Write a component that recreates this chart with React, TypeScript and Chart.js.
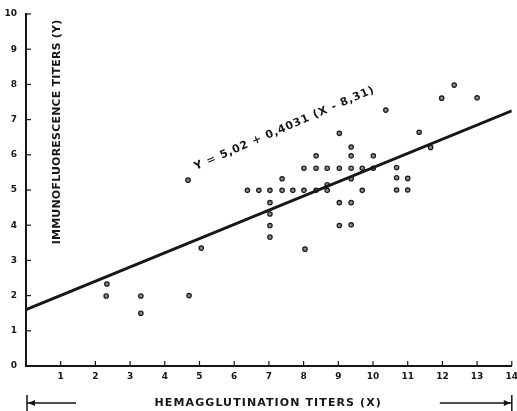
import React, { useEffect, useRef } from "react";
import { Chart, registerables } from "chart.js";

Chart.register(...registerables);

// ---- data ----
const xTickValues = [0, 1, 2, 3, 4, 5, 6, 7, 8, 9, 10, 11, 12, 13, 14];
const yTickValues = [0, 1, 2, 3, 4, 5, 6, 7, 8, 9, 10];

const pointX = [
  2.33, 2.31, 3.31, 3.31, 4.67, 4.7, 5.05,
  6.38, 6.71, 7.03, 7.38, 7.69, 8.01, 8.36, 8.68, 9.69, 10.68, 11.0,
  8.68,
  7.38, 9.37, 10.68, 11.0,
  8.01, 8.36, 8.68, 9.03, 9.37, 9.69, 10.01, 10.68,
  8.36, 9.37, 10.01,
  9.37, 11.66,
  9.03, 11.33,
  10.37,
  11.98, 13.0,
  12.34,
  7.03, 9.03, 9.37,
  7.03,
  7.03, 9.03, 9.37,
  7.03,
  8.04,
];
const pointY = [
  2.33, 1.99, 1.99, 1.5, 5.28, 2.0, 3.35,
  4.99, 4.99, 4.99, 4.99, 4.99, 4.99, 4.99, 4.99, 4.99, 5.0, 5.0,
  5.15,
  5.32, 5.32, 5.35, 5.33,
  5.62, 5.62, 5.62, 5.62, 5.62, 5.62, 5.62, 5.64,
  5.97, 5.97, 5.97,
  6.22, 6.21,
  6.61, 6.64,
  7.27,
  7.61, 7.62,
  7.98,
  4.64, 4.64, 4.64,
  4.32,
  3.99, 3.99, 4.01,
  3.66,
  3.32,
];

const fitLineX = [0, 14];
const fitLineY = [1.6, 7.25];

const equationText = "Y = 5,02 + 0,4031 (X - 8,31)";
const xTitleText = "HEMAGGLUTINATION TITERS (X)";
const yTitleText = "IMMUNOFLUORESCENCE TITERS (Y)";

const INK = "#161616";
const FONT = "'DejaVu Sans', sans-serif";

const decorPlugin = {
  id: "decor",
  afterDraw(chart: any) {
    const ctx = chart.ctx as CanvasRenderingContext2D;
    const xs = chart.scales.x;
    const ys = chart.scales.y;
    const left = chart.chartArea.left;
    const bottom = chart.chartArea.bottom;
    ctx.save();
    ctx.strokeStyle = INK;
    ctx.fillStyle = INK;
    // inward tick marks
    ctx.lineWidth = 1.2;
    xTickValues.forEach((v) => {
      if (v === 0) return;
      const px = xs.getPixelForValue(v);
      ctx.beginPath();
      ctx.moveTo(px, bottom);
      ctx.lineTo(px, bottom - 5);
      ctx.stroke();
    });
    yTickValues.forEach((v) => {
      if (v === 0) return;
      const py = ys.getPixelForValue(v);
      ctx.beginPath();
      ctx.moveTo(left, py);
      ctx.lineTo(left + 5, py);
      ctx.stroke();
    });

    // y title, vertical, inside plot
    ctx.save();
    ctx.translate(left + 31, ys.getPixelForValue(6.65));
    ctx.rotate(-Math.PI / 2);
    ctx.font = `bold 11px ${FONT}`;
    (ctx as any).letterSpacing = "0.2px";
    ctx.textAlign = "center";
    ctx.textBaseline = "middle";
    ctx.fillText(yTitleText, 0, 0);
    ctx.restore();

    // equation along the line
    ctx.save();
    ctx.translate(xs.getPixelForValue(7.45), ys.getPixelForValue(6.75));
    ctx.rotate(-23.5 * Math.PI / 180);
    ctx.font = `bold 11px ${FONT}`;
    (ctx as any).letterSpacing = "0.8px";
    ctx.textAlign = "center";
    ctx.textBaseline = "middle";
    ctx.fillText(equationText, 0, 0);
    ctx.restore();

    // x title
    const ty = bottom + 37;
    ctx.save();
    ctx.font = `bold 11px ${FONT}`;
    (ctx as any).letterSpacing = "1.1px";
    ctx.textAlign = "center";
    ctx.textBaseline = "middle";
    ctx.fillText(xTitleText, xs.getPixelForValue(6.98), ty);
    ctx.restore();

    // arrows
    const x0 = xs.getPixelForValue(0);
    const x14 = xs.getPixelForValue(14);
    ctx.lineWidth = 1.5;
    ctx.beginPath();
    ctx.moveTo(x0 + 1, ty - 8);
    ctx.lineTo(x0 + 1, ty + 8);
    ctx.moveTo(x0 + 1, ty);
    ctx.lineTo(x0 + 50, ty);
    ctx.moveTo(x14, ty - 8);
    ctx.lineTo(x14, ty + 8);
    ctx.moveTo(x14, ty);
    ctx.lineTo(x14 - 72, ty);
    ctx.stroke();
    ctx.beginPath();
    ctx.moveTo(x0 + 2, ty);
    ctx.lineTo(x0 + 9, ty - 3);
    ctx.lineTo(x0 + 9, ty + 3);
    ctx.closePath();
    ctx.fill();
    ctx.beginPath();
    ctx.moveTo(x14 - 1, ty);
    ctx.lineTo(x14 - 8, ty - 3);
    ctx.lineTo(x14 - 8, ty + 3);
    ctx.closePath();
    ctx.fill();
    ctx.restore();
  },
};

export default function App() {
  const canvasRef = useRef<HTMLCanvasElement | null>(null);

  useEffect(() => {
    if (!canvasRef.current) return;
    const scatterData = pointX.map((x, i) => ({ x, y: pointY[i] }));
    const lineData = fitLineX.map((x, i) => ({ x, y: fitLineY[i] }));
    const chart = new Chart(canvasRef.current, {
      type: "scatter",
      data: {
        datasets: [
          {
            type: "line",
            data: lineData,
            borderColor: INK,
            borderWidth: 3,
            pointRadius: 0,
            fill: false,
            tension: 0,
          } as any,
          {
            type: "scatter",
            data: scatterData,
            pointRadius: 2.2,
            pointBorderWidth: 1.2,
            borderColor: INK,
            backgroundColor: "#8a8a8a",
            pointBorderColor: INK,
            pointBackgroundColor: "#8a8a8a",
          } as any,
        ],
      },
      options: {
        animation: false,
        responsive: false,
        maintainAspectRatio: false,
        layout: { padding: { left: 0, right: 5, top: 14, bottom: 0 } },
        plugins: {
          legend: { display: false },
          tooltip: { enabled: false },
          title: { display: false },
        },
        scales: {
          x: {
            type: "linear",
            min: 0,
            max: 14,
            afterFit: (s: any) => {
              s.height = 45;
              s.paddingLeft = 0;
              s.paddingRight = 0;
            },
            afterBuildTicks: (s: any) => {
              s.ticks = xTickValues.map((v) => ({ value: v }));
            },
            grid: { display: false, drawTicks: false },
            border: { display: true, color: INK, width: 2 },
            ticks: {
              padding: 5,
              color: INK,
              font: { family: FONT, size: 9, weight: "bold" },
              maxRotation: 0,
              autoSkip: false,
              callback: (v: any) => (v === 0 ? "" : String(v)),
            },
          },
          y: {
            type: "linear",
            min: 0,
            max: 10,
            afterFit: (s: any) => {
              s.width = 26;
              s.paddingTop = 0;
              s.paddingBottom = 0;
            },
            afterBuildTicks: (s: any) => {
              s.ticks = yTickValues.map((v) => ({ value: v }));
            },
            grid: { display: false, drawTicks: false },
            border: { display: true, color: INK, width: 2 },
            ticks: {
              padding: 9,
              color: INK,
              font: { family: FONT, size: 9, weight: "bold" },
              autoSkip: false,
              callback: (v: any) => String(v),
            },
          },
        },
      } as any,
      plugins: [decorPlugin],
    });
    return () => chart.destroy();
  }, []);

  return (
    <div
      style={{
        position: "fixed",
        left: 0,
        top: 0,
        width: 517,
        height: 411,
        background: "#fff",
      }}
    >
      <canvas ref={canvasRef} width={517} height={411} style={{ display: "block" }} />
    </div>
  );
}
